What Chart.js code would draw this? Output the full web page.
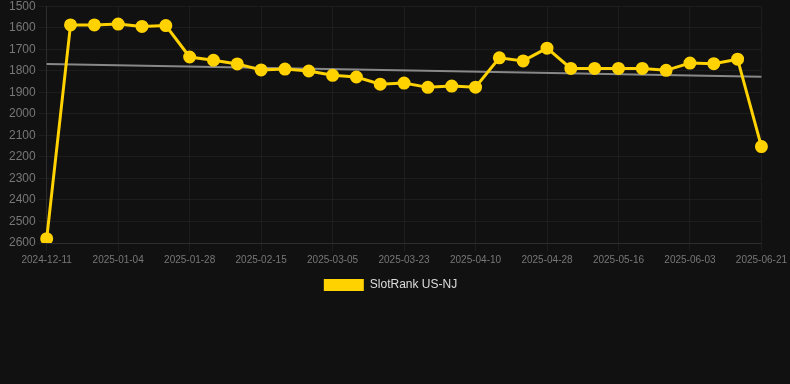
<!DOCTYPE html>
<html>
<head>
<meta charset="utf-8">
<script src="https://cdn.jsdelivr.net/npm/chart.js@4/dist/chart.umd.min.js"></script>
<style>
  html, body { margin: 0; padding: 0; background: #111111; overflow: hidden; }
  #wrap { width: 790px; height: 305px; margin-top: -4px; position: relative; }
</style>
</head>
<body>
<div id="wrap"><canvas id="c"></canvas></div>
<script>
const categories = [
  '2024-12-11','2024-12-19','2024-12-27','2025-01-04','2025-01-12','2025-01-20',
  '2025-01-28','2025-02-03','2025-02-09','2025-02-15','2025-02-21','2025-02-27',
  '2025-03-05','2025-03-11','2025-03-17','2025-03-23','2025-03-29','2025-04-04',
  '2025-04-10','2025-04-16','2025-04-22','2025-04-28','2025-05-04','2025-05-10',
  '2025-05-16','2025-05-22','2025-05-28','2025-06-03','2025-06-09','2025-06-15',
  '2025-06-21'
];
const slotRank = [
  2580, 1587, 1587, 1583, 1594, 1590, 1736, 1751, 1768, 1796, 1792, 1801,
  1821, 1829, 1862, 1857, 1877, 1871, 1876, 1740, 1754, 1695, 1789, 1789,
  1789, 1789, 1798, 1764, 1767, 1746, 2152
];
const trend = [1768].concat(new Array(29).fill(null), [1828]);
const yTicks = [1500,1600,1700,1800,1900,2000,2100,2200,2300,2400,2500,2600];

const gold = 'rgb(255,210,0)';
const legendShift = {
  id: 'legendShift',
  afterLayout(chart) {
    if (chart.legend) { chart.legend.left -= 6; chart.legend.right -= 6; }
  }
};
new Chart(document.getElementById('c'), {
  type: 'line',
  plugins: [legendShift],
  data: {
    labels: categories,
    datasets: [
      {
        label: 'SlotRank US-NJ',
        data: slotRank,
        borderColor: gold,
        backgroundColor: gold,
        pointBackgroundColor: gold,
        pointBorderColor: gold,
        borderWidth: 3,
        pointRadius: 5,
        tension: 0
      },
      {
        label: 'trend',
        data: trend,
        borderColor: 'rgba(150,150,150,0.9)',
        borderWidth: 2,
        pointRadius: 0,
        spanGaps: true
      }
    ]
  },
  options: {
    responsive: true,
    maintainAspectRatio: false,
    animation: false,
    layout: { padding: { left: 6, right: 3, top: 0, bottom: 0 } },
    plugins: {
      legend: {
        position: 'bottom',
        labels: {
          color: '#dddddd',
          font: { family: 'Liberation Sans, Arial, sans-serif', size: 12 },
          boxWidth: 40,
          boxHeight: 12,
          generateLabels: (chart) => Chart.defaults.plugins.legend.labels.generateLabels(chart)
            .filter(it => it.text !== 'trend')
            .map(it => Object.assign(it, { lineWidth: 0, fillStyle: gold }))
        }
      },
      tooltip: { enabled: false }
    },
    scales: {
      x: {
        grid: { color: 'rgba(255,255,255,0.05)' },
        border: { color: 'rgba(255,255,255,0.08)' },
        ticks: {
          color: '#777777',
          font: { family: 'Liberation Sans, Arial, sans-serif', size: 10 },
          maxRotation: 0,
          autoSkip: false,
          callback: function(v, i) { return i % 3 === 0 ? categories[i] : null; }
        }
      },
      y: {
        reverse: true,
        min: yTicks[0],
        max: yTicks[yTicks.length - 1],
        afterBuildTicks: (axis) => { axis.ticks = yTicks.map(v => ({ value: v })); },
        grid: { color: 'rgba(255,255,255,0.05)' },
        border: { color: 'rgba(255,255,255,0.08)' },
        ticks: {
          color: '#777777',
          font: { family: 'Liberation Sans, Arial, sans-serif', size: 12 },
          callback: (v) => String(v)
        }
      }
    }
  }
});
</script>
</body>
</html>
